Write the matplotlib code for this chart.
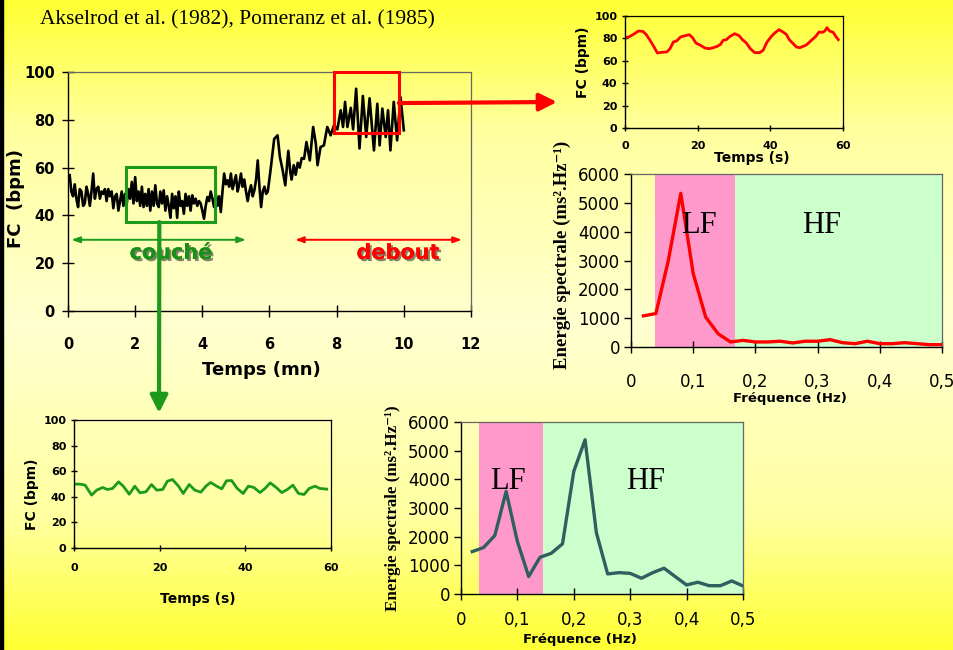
import numpy as np
import matplotlib
matplotlib.use("Agg")
import matplotlib.pyplot as plt
import matplotlib.patheffects as pe
from matplotlib.patches import Rectangle, ConnectionPatch
from matplotlib.colors import LinearSegmentedColormap

# ---------------- data ----------------
# heart rate over ~10 minutes: lying (0-6 min, sampled every 3 s) then standing
rest_t = [round(0.05 * i, 2) for i in range(1, 120)]
rest_fc = [56.8, 50, 48, 53, 47, 43.5, 51, 50, 44, 45,
           52, 49, 44, 50, 57.5, 47, 51, 52, 47, 50,
           49, 51, 46, 51, 48, 50, 43, 48, 49, 42,
           46, 50, 44, 49, 45, 51, 47, 54, 45, 56,
           46, 50, 44, 52, 43.5, 49, 44, 51, 42, 50,
           44, 52.6, 45, 43.5, 50, 45, 50.5, 42, 48, 44,
           39, 49, 43, 48, 39, 50, 44, 46, 40.7, 49,
           44, 48, 42, 48.4, 45, 47, 44, 46, 45, 42,
           38.6, 44, 47.7, 46, 50, 47, 43.5, 49, 44, 48,
           41.4, 50, 57.5, 53, 54.7, 52, 57.5, 51, 54, 56.8,
           50, 53, 57.5, 52, 55, 50, 46, 50, 52.6, 48,
           50.5, 55, 63, 52, 43.5, 50, 52, 49, 50]
rise_t = [6.04, 6.14, 6.24, 6.31, 6.39, 6.47, 6.56, 6.62, 6.66, 6.72,
          6.78, 6.84, 6.90, 6.96, 7.03, 7.10, 7.20, 7.30, 7.38, 7.43,
          7.52, 7.62, 7.72, 7.82, 7.92, 8.02, 8.12, 8.19, 8.25, 8.32,
          8.42, 8.49, 8.58, 8.68, 8.78, 8.88, 8.98, 9.11, 9.21, 9.28,
          9.36, 9.46, 9.53, 9.60, 9.70, 9.80, 9.90, 10.00]
rise_fc = [60, 72, 73.5, 64.4, 59, 52.6, 67, 58, 55, 61,
           57, 62, 60, 64, 63.7, 70.7, 63, 77, 70, 61,
           68.6, 69.3, 77, 73.5, 77.7, 76, 84, 77, 87.5, 77,
           85, 76, 93, 68, 90, 72.8, 89, 67.2, 86.7, 69.3,
           84.7, 72.8, 84, 67.2, 87.5, 71.4, 89.5, 75.6]
main_t = rest_t + rise_t
main_fc = rest_fc + rise_fc

# 60 s excerpt, standing
debout_t = [0.3, 1.4, 2.5, 3.7, 4.9, 5.8, 6.9, 8.0, 8.9, 10.1,
            11.5, 12.4, 13.3, 14.2, 15.3, 16.5, 17.7, 18.6, 19.5, 20.8,
            22.0, 23.2, 24.3, 25.4, 26.3, 27.0, 27.9, 28.9, 30.2, 31.4,
            32.3, 33.4, 34.5, 35.7, 37.1, 38.0, 39.1, 40.3, 41.2, 42.4,
            43.5, 44.4, 45.2, 46.1, 47.2, 48.1, 49.5, 50.1, 51.3, 52.5,
            53.4, 54.3, 55.0, 55.6, 56.3, 57.3, 58.0, 58.7]
debout_fc = [80.7, 81.8, 84.0, 86.6, 86.3, 83.6, 78.3, 72.3, 67.0, 67.6,
             67.9, 70.8, 76.8, 77.7, 81.3, 82.4, 83.3, 80.7, 75.9, 73.8,
             71.4, 70.8, 71.7, 72.9, 74.7, 78.3, 78.9, 81.8, 84.2, 82.4,
             78.9, 75.9, 70.8, 67.3, 67.3, 69.3, 76.8, 81.8, 84.8, 87.8,
             85.7, 83.6, 78.9, 75.9, 72.3, 71.7, 73.5, 74.7, 78.3, 81.8,
             85.7, 85.4, 86.6, 89.6, 86.6, 85.4, 81.8, 78.9]

# 60 s excerpt, lying
couche_t = [0.5, 1.4, 2.6, 4.1, 5.3, 6.7, 7.8, 9.0, 10.4, 11.5,
            12.9, 14.2, 15.4, 16.8, 18.1, 19.3, 20.7, 21.8, 23.0, 24.4,
            25.5, 26.9, 28.2, 29.6, 30.8, 31.9, 33.3, 34.5, 35.6, 36.8,
            38.1, 39.5, 40.7, 42.0, 43.4, 44.6, 45.8, 47.2, 48.5, 49.8,
            51.1, 52.4, 53.7, 54.9, 56.3, 57.4, 59.0]
couche_fc = [49.9, 49.9, 49.1, 41.3, 45.2, 47.3, 45.7, 46.5, 51.7, 48.3,
             42.0, 48.3, 43.1, 43.9, 49.6, 45.2, 45.7, 52.2, 53.5, 48.3,
             42.6, 49.6, 45.2, 43.6, 48.3, 51.2, 48.3, 46.2, 52.5, 52.7,
             46.5, 42.6, 48.3, 47.3, 43.3, 46.5, 50.9, 47.3, 43.3, 45.7,
             49.1, 42.6, 41.8, 46.5, 48.3, 46.5, 46.0]

# power spectra
freq = [0.02, 0.04, 0.06, 0.08, 0.10, 0.12, 0.14, 0.16, 0.18, 0.20,
        0.22, 0.24, 0.26, 0.28, 0.30, 0.32, 0.34, 0.36, 0.38, 0.40,
        0.42, 0.44, 0.46, 0.48, 0.50]
psd_debout = [1080, 1160, 3000, 5330, 2550, 1040, 460, 175, 230, 175,
              175, 200, 140, 200, 200, 255, 150, 115, 200, 115,
              115, 150, 115, 80, 80]
psd_couche = [1480, 1620, 2040, 3580, 1830, 610, 1280, 1420, 1750, 4280,
              5380, 2140, 700, 745, 720, 550, 745, 900, 605, 315,
              410, 290, 290, 455, 280]

# frequency bands (LF start, LF/HF boundary, HF end)
band_debout = [0.039, 0.167, 0.5]
band_couche = [0.032, 0.145, 0.5]

freq_ticks = [0, 0.1, 0.2, 0.3, 0.4, 0.5]
freq_labels = ["0", "0,1", "0,2", "0,3", "0,4", "0,5"]

# ---------------- styling ----------------
W, H = 954, 650
GREEN = "#1b9a1b"
RED = "#ff0000"
SLATE = "#2f5f5f"
PINK = "#ff99cc"
MINT = "#ccffcc"
SANS = "DejaVu Sans"
SERIF = ["Liberation Serif", "DejaVu Serif"]

fig = plt.figure(figsize=(W / 100, H / 100), dpi=100)


def px_box(l, t, r, b):
    return [l / W, 1 - b / H, (r - l) / W, (b - t) / H]


# background gradient
ax_bg = fig.add_axes([0, 0, 1, 1], zorder=-10)
cmap = LinearSegmentedColormap.from_list(
    "bg", [(0.0, "#ffff33"), (0.2, "#ffffa0"), (0.5, "#ffffd0"),
           (0.8, "#ffffa0"), (1.0, "#ffff33")])
grad = np.linspace(0, 1, 400).reshape(-1, 1)
ax_bg.imshow(grad, aspect="auto", cmap=cmap, extent=[0, 1, 0, 1], origin="upper")
ax_bg.set_axis_off()
ax_bg.add_patch(Rectangle((0, 0), 3 / W, 1, color="black", transform=ax_bg.transAxes))

fig.text(40 / W, 1 - 20 / H, "Akselrod et al. (1982), Pomeranz et al. (1985)",
         family=SERIF, fontsize=15.4, va="center", ha="left")


def style_axes(ax, tick_size, bold=True, x_dir="inout", y_dir="inout"):
    ax.patch.set_alpha(0)
    for s in ("top", "right"):
        ax.spines[s].set_color("#666666")
        ax.spines[s].set_linewidth(0.9)
    for s in ("left", "bottom"):
        ax.spines[s].set_color("black")
        ax.spines[s].set_linewidth(1.0)
    ax.tick_params(axis="x", direction=x_dir, length=7, width=1, pad=4)
    ax.tick_params(axis="y", direction=y_dir, length=7, width=1, pad=3)
    for lab in ax.get_xticklabels() + ax.get_yticklabels():
        lab.set_fontsize(tick_size)
        lab.set_family(SANS)
        if bold:
            lab.set_fontweight("bold")


def place_labels(ax, xlabel, ylabel, size, xpos, ypos, family=SANS, yfamily=None, ysize=None):
    ax.set_xlabel(xlabel, fontsize=size, fontweight="bold", family=family)
    ax.set_ylabel(ylabel, fontsize=ysize or size, fontweight="bold", family=yfamily or family)
    ax.xaxis.label.set_va("center")
    ax.yaxis.label.set_va("center")
    ax.xaxis.set_label_coords(*xpos)
    ax.yaxis.set_label_coords(*ypos)


# ---------------- main chart ----------------
ax = fig.add_axes(px_box(68, 72, 471, 311))
ax.plot(main_t, main_fc, color="black", lw=1.9, solid_joinstyle="round")
ax.set_xlim(0, 12)
ax.set_ylim(0, 100)
ax.set_xticks(range(0, 13, 2))
ax.set_yticks(range(0, 101, 20))
style_axes(ax, 10.5)
ax.tick_params(axis="y", length=9, pad=5)
ax.tick_params(axis="x", length=9, pad=14)
place_labels(ax, "Temps (mn)", "FC  (bpm)", 13, (0.48, -0.247), (-0.13, 0.47))

green_box = Rectangle((1.73, 37.2), 4.39 - 1.73, 60.3 - 37.2, fill=False,
                      ec=GREEN, lw=2.2, clip_on=False, zorder=5)
red_box = Rectangle((7.92, 74.5), 9.85 - 7.92, 100.2 - 74.5, fill=False,
                    ec=RED, lw=2.2, clip_on=False, zorder=5)
ax.add_patch(green_box)
ax.add_patch(red_box)

ax.annotate("", xy=(0.1, 29.8), xytext=(5.3, 29.8),
            arrowprops=dict(arrowstyle="<|-|>,head_length=0.5,head_width=0.18",
                            color=GREEN, lw=1.4, shrinkA=0, shrinkB=0))
ax.annotate("", xy=(6.76, 29.8), xytext=(11.73, 29.8),
            arrowprops=dict(arrowstyle="<|-|>,head_length=0.5,head_width=0.18",
                            color=RED, lw=1.4, shrinkA=0, shrinkB=0))
shadow = [pe.withSimplePatchShadow(offset=(1.5, -1.5), shadow_rgbFace="#333333", alpha=0.6),
          pe.Normal()]
ax.text(3.07, 24.3, "couché", color="#189018", fontsize=15, fontweight="bold",
        family=SANS, ha="center", va="center", path_effects=shadow)
ax.text(9.83, 24.3, "debout", color=RED, fontsize=15, fontweight="bold",
        family=SANS, ha="center", va="center", path_effects=shadow)

# ---------------- standing excerpt ----------------
ax_d = fig.add_axes(px_box(625, 16, 843, 128))
ax_d.plot(debout_t, debout_fc, color=RED, lw=2.0)
ax_d.set_xlim(0, 60)
ax_d.set_ylim(0, 100)
ax_d.set_xticks(range(0, 61, 20))
ax_d.set_yticks(range(0, 101, 20))
style_axes(ax_d, 8)
for s in ("top", "right"):
    ax_d.spines[s].set_color("black")
ax_d.tick_params(length=5)
ax_d.tick_params(axis="x", pad=7)
place_labels(ax_d, "Temps (s)", "FC (bpm)", 10, (0.58, -0.27), (-0.193, 0.59))

# ---------------- lying excerpt ----------------
ax_c = fig.add_axes(px_box(74, 420, 331, 548))
ax_c.plot(couche_t, couche_fc, color=GREEN, lw=2.0)
ax_c.set_xlim(0, 60)
ax_c.set_ylim(0, 100)
ax_c.set_xticks(range(0, 61, 20))
ax_c.set_yticks(range(0, 101, 20))
style_axes(ax_c, 8)
for s in ("top", "right"):
    ax_c.spines[s].set_color("black")
ax_c.tick_params(length=5)
ax_c.tick_params(axis="x", pad=8)
place_labels(ax_c, "Temps (s)", "FC (bpm)", 10, (0.48, -0.40), (-0.163, 0.42))


# ---------------- spectra ----------------
def spectrum(box, f, p, bands, color, lf_x, hf_x, txt_y, xpad, xlab_xy, ylab_xy, ysize):
    a = fig.add_axes(px_box(*box))
    lo, mid, hi = bands
    a.axvspan(lo, mid, ymin=0, ymax=5960 / 6000, color=PINK, lw=0, zorder=0)
    a.axvspan(mid, hi, ymin=0, ymax=5960 / 6000, color=MINT, lw=0, zorder=0)
    a.plot(f, p, color=color, lw=2.4, zorder=3)
    a.set_xlim(0, 0.5)
    a.set_ylim(0, 6000)
    a.set_xticks(freq_ticks)
    a.set_xticklabels(freq_labels)
    a.set_yticks(range(0, 6001, 1000))
    style_axes(a, 12, bold=False, x_dir="inout", y_dir="out")
    a.tick_params(axis="y", length=5)
    a.tick_params(axis="x", length=9, pad=xpad)
    a.text(lf_x, txt_y, "LF", family=SERIF, fontsize=22, ha="center", va="center", zorder=4)
    a.text(hf_x, txt_y, "HF", family=SERIF, fontsize=22, ha="center", va="center", zorder=4)
    place_labels(a, "Fréquence (Hz)", "Energie spectrale (ms².Hz⁻¹)", 9.5,
                 xlab_xy, ylab_xy, yfamily=SERIF, ysize=ysize)
    return a


ax_s1 = spectrum((631, 174, 942, 347), freq, psd_debout, band_debout, RED,
                 0.1086, 0.306, 4230, 14, (0.51, -0.295), (-0.222, 0.53), 13.5)
ax_s2 = spectrum((461, 422, 743, 594), freq, psd_couche, band_couche, SLATE,
                 0.084, 0.327, 3930, 8, (0.42, -0.262), (-0.241, 0.50), 12.2)

# ---------------- connectors ----------------
ax_ov = fig.add_axes([0, 0, 1, 1], zorder=20)
ax_ov.set_xlim(0, W)
ax_ov.set_ylim(H, 0)
ax_ov.set_axis_off()
ax_ov.patch.set_alpha(0)

arrow_style = "-|>,head_length=0.7,head_width=0.35"
red_link = ConnectionPatch(xyA=(9.85, 87.0), coordsA=ax.transData,
                           xyB=(557, 102), coordsB=ax_ov.transData,
                           arrowstyle=arrow_style, color=RED, lw=3.0,
                           mutation_scale=15, shrinkA=0, shrinkB=0)
green_link = ConnectionPatch(xyA=(2.72, 37.2), coordsA=ax.transData,
                             xyB=(159, 413), coordsB=ax_ov.transData,
                             arrowstyle=arrow_style, color=GREEN, lw=3.0,
                             mutation_scale=15, shrinkA=0, shrinkB=0)
ax_ov.add_artist(red_link)
ax_ov.add_artist(green_link)

fig.savefig("out.png", dpi=100)
